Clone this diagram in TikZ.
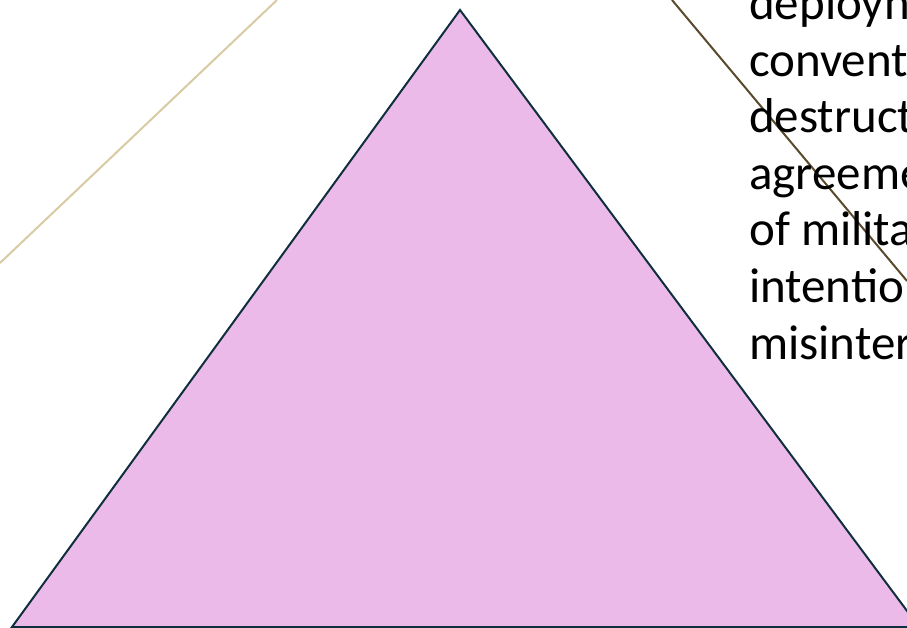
\documentclass[tikz,border=0pt]{standalone}
\usepackage{fontspec}
\setmainfont{Carlito}
\usepackage{tikz}
\usetikzlibrary{positioning}
\usetikzlibrary{calc}

\definecolor{pyrfill}{HTML}{ECBAE8}
\definecolor{pyredge}{HTML}{0F2F3E}
\definecolor{tanline}{HTML}{D8CAA2}
\definecolor{oliveline}{HTML}{5A4A2C}

\tikzset{
    txtline/.style={anchor=base west, inner sep=0pt, font=\fontsize{49}{56}\selectfont, text=black},
    deco/.style={line width=2pt},
}

\begin{document}
\begin{tikzpicture}[x=1pt, y=-1pt]
    \useasboundingbox (0,0) rectangle (907,628);
    \clip (0,0) rectangle (907,628);

    % corner points of the triangle
    \coordinate (apex) at (460,10);
    \coordinate (bl) at (12,627);
    \coordinate (br) at (919,627);

    % thin lines in the background
    \coordinate (t1) at (277,0);
    \coordinate (t2) at (0,263);
    \coordinate (o1) at (672,0);
    \coordinate (o2) at (907,281);
    \draw[deco, tanline] (t1) -- (t2);
    \draw[deco, oliveline] (o1) -- (o2);

    \draw[fill=pyrfill, draw=pyredge, line width=2pt, line join=miter] (apex) -- (br) -- (bl) -- cycle;

    % text on the right
    \node[txtline] (l1) at (749,20) {deployn};
    \node[txtline] (l2) at (749,76.5) {convent};
    \node[txtline] (l3) at (749,133) {destruct};
    \node[txtline] (l4) at (749,189.5) {agreeme};
    \node[txtline] (l5) at (749,246) {of milita};
    \node[txtline] (l6) at (749,302.5) {intentio};
    \node[txtline] (l7) at (749,359) {misinter};

\end{tikzpicture}
\end{document}
